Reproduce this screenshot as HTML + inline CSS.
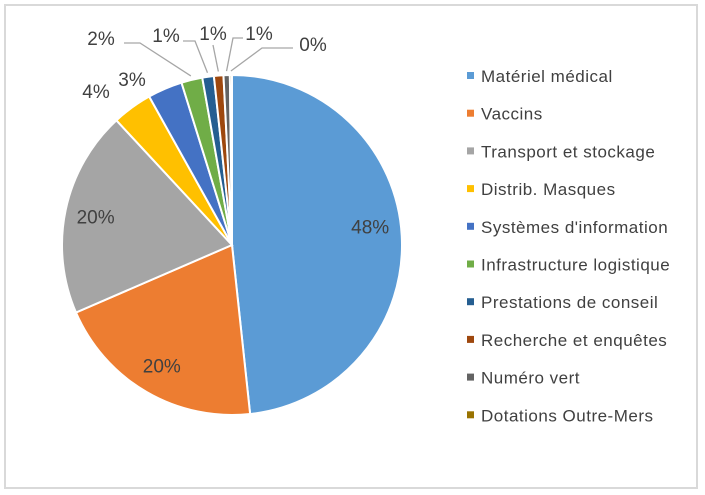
<!DOCTYPE html>
<html><head><meta charset="utf-8"><style>
body{margin:0;background:#fff;}
svg{display:block;font-family:"Liberation Sans",sans-serif;}
</style></head><body>
<svg id="c" width="705" height="495">
<rect x="5" y="5" width="692" height="483" fill="#fff" stroke="#d9d9d9" stroke-width="2"/>
<g id="slices"></g>
<g id="labels"></g>
<g id="legend"></g>
</svg>
<script>
const categories=["Matériel médical","Vaccins","Transport et stockage","Distrib. Masques","Systèmes d'information","Infrastructure logistique","Prestations de conseil","Recherche et enquêtes","Numéro vert","Dotations Outre-Mers"];
const values=[48.3,20.2,19.6,3.8,3.3,2.0,1.1,0.9,0.6,0.2];
const labels=["48%","20%","20%","4%","3%","2%","1%","1%","1%","0%"];
const colors=["#5b9bd5","#ed7d31","#a5a5a5","#ffc000","#4472c4","#70ad47","#255e91","#9e480e","#636363","#997300"];
const NS="http://www.w3.org/2000/svg";
const cx=232,cy=245,r=170;
const total=values.reduce((a,b)=>a+b,0);
function pt(a,rr){return [cx+rr*Math.sin(a),cy-rr*Math.cos(a)];}
function mk(t,attrs,parent){const e=document.createElementNS(NS,t);for(const k in attrs)e.setAttribute(k,attrs[k]);parent.appendChild(e);return e;}
const gS=document.getElementById('slices'),gL=document.getElementById('labels'),gG=document.getElementById('legend');
const outside={3:[96,98,null],4:[132,86,null],5:[101,45,[[124,43],[140,43]]],6:[166,42,[[183,41],[195,41]]],7:[213,40,[[213,45]]],8:[259,40,[[243,38],[233,38]]],9:[313,51,[[293,48],[262,48]]]};
let a0=0;
values.forEach((v,i)=>{
  const a1=a0+v/total*2*Math.PI;
  const p0=pt(a0,r),p1=pt(a1,r);
  const large=(a1-a0)>Math.PI?1:0;
  const p=mk('path',{d:`M${cx},${cy}L${p0[0]},${p0[1]}A${r},${r} 0 ${large} 1 ${p1[0]},${p1[1]}Z`,fill:colors[i],stroke:'#fff','stroke-width':2},gS);
  
  
  const am=(a0+a1)/2;
  let tx,ty;
  if(outside[i]){
    tx=outside[i][0];ty=outside[i][1];
    if(outside[i][2]){
      const e=pt(am,r+4);
      const pts=outside[i][2].map(q=>q.join(',')).join(' ')+' '+e[0]+','+e[1];
      const l=mk('polyline',{points:pts,fill:'none',stroke:'#a6a6a6','stroke-width':1.3},gL);
      
      
    }
  } else {const q=pt(am-(i===0?0.08:0),r*0.82);tx=q[0];ty=q[1]+7;}
  const t=mk('text',{x:tx,y:ty,'text-anchor':'middle','font-size':19,fill:'#404040'},gL);
  t.textContent=labels[i];
  
  
  const ly=76+i*37.7;
  const s=mk('rect',{x:467,y:ly-4,width:7,height:7,fill:colors[i]},gG);
  
  
  const lt=mk('text',{x:481,y:ly+6,'font-size':17,'letter-spacing':0.5,fill:'#404040'},gG);
  lt.textContent=categories[i];
  
  
  a0=a1;
});
</script>
</body></html>
